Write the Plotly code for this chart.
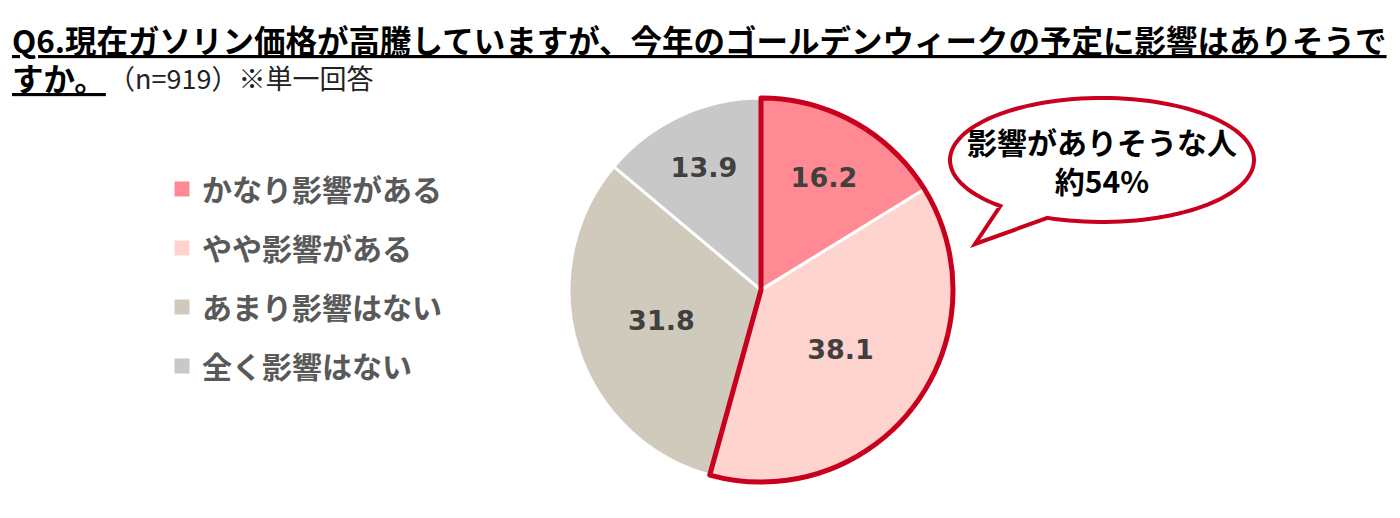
import math
import plotly.graph_objects as go

W, H = 1392, 510   # page has an 8px body margin
OFF = 8

# ---- data ----
categories = ["かなり影響がある", "やや影響がある", "あまり影響はない", "全く影響はない"]
values = [16.2, 38.1, 31.8, 13.9]
colors = ["#FF8A93", "#FFD4CF", "#D0CABC", "#C8C8C8"]
title_line1 = "Q6.現在ガソリン価格が高騰していますが、今年のゴールデンウィークの予定に影響はありそうで"
title_line2 = "すか。"
title_note = "（n=919）※単一回答"
callout_label = "影響がありそうな人"

affected = values[0] + values[1]
RED = "#C8001E"

def px(x):
    return (x - OFF) / W

def py(y):
    return 1 - (y - OFF) / H

# pie geometry (screen pixels)
cx, cy, r = 761, 290, 192
dom_x = [px(cx) - 0.2, px(cx) + 0.2]
dom_y = [py(cy + r), py(cy - r)]

fig = go.Figure()

fig.add_trace(go.Pie(
    labels=categories, values=values, sort=False, direction="clockwise", rotation=0,
    marker=dict(colors=colors, line=dict(color="white", width=3)),
    textinfo="value", texttemplate="%{value:.1f}", textposition="inside",
    insidetextorientation="horizontal",
    textfont=dict(family="DejaVu Sans", size=27, color="#404040", weight="bold"),
    domain=dict(x=dom_x, y=dom_y), showlegend=False, hoverinfo="label+value",
))

# red outline around the "affected" group
fig.add_trace(go.Pie(
    labels=["affected", "other"], values=[affected, 100 - affected], sort=False,
    direction="clockwise", rotation=0,
    marker=dict(colors=["rgba(0,0,0,0)", "rgba(0,0,0,0)"],
                line=dict(color=[RED, "rgba(0,0,0,0)"], width=[5, 0])),
    textinfo="none", hoverinfo="skip", showlegend=False,
    domain=dict(x=dom_x, y=dom_y),
))

# legend entries
for i, (cat, col) in enumerate(zip(categories, colors)):
    fig.add_trace(go.Scatter(
        x=[None], y=[None], mode="markers", name=cat, legendgroup=f"g{i}",
        marker=dict(symbol="square", size=15, color=col), showlegend=True,
    ))

# callout bubble (ellipse + tail) built as a polygon path
ecx, ecy, erx, ery = 1102, 160, 152, 62
t_start = math.radians(111)
t_end = math.radians(132) - 2 * math.pi
tip = (975, 244)
pts = []
n = 120
for k in range(n + 1):
    t = t_start + (t_end - t_start) * k / n
    pts.append((ecx + erx * math.cos(t), ecy + ery * math.sin(t)))
pts.append(tip)
path = "M " + " L ".join(f"{px(x):.5f},{py(y):.5f}" for x, y in pts) + " Z"
fig.add_shape(type="path", path=path, xref="paper", yref="paper",
              fillcolor="white", line=dict(color=RED, width=4))

fig.add_annotation(
    x=px(ecx), y=py(160), xref="paper", yref="paper", showarrow=False,
    text=f"<b>{callout_label}<br>約{round(affected)}%</b>",
    font=dict(family="Noto Sans CJK JP", size=30, color="#000000"),
    align="center", xanchor="center", yanchor="middle",
)

# title
fig.add_annotation(
    x=px(10), y=py(39), xref="paper", yref="paper", showarrow=False,
    text=f"<b><u>{title_line1}</u></b>",
    font=dict(family="Noto Sans CJK JP", size=31.5, color="#000000"),
    xanchor="left", yanchor="middle",
)
fig.add_annotation(
    x=px(10), y=py(77), xref="paper", yref="paper", showarrow=False,
    text=f"<b><u>{title_line2}</u></b>",
    font=dict(family="Noto Sans CJK JP", size=31.5, color="#000000"),
    xanchor="left", yanchor="middle",
)
fig.add_annotation(
    x=px(106), y=py(78), xref="paper", yref="paper", showarrow=False,
    text=title_note,
    font=dict(family="Noto Sans CJK JP", size=27, color="#222222"),
    xanchor="left", yanchor="middle",
)

fig.update_layout(
    width=W, height=H, margin=dict(l=0, r=0, t=0, b=0),
    paper_bgcolor="white", plot_bgcolor="white",
    xaxis=dict(visible=False), yaxis=dict(visible=False),
    legend=dict(
        x=px(162), y=py(163), xanchor="left", yanchor="top",
        font=dict(family="Noto Sans CJK JP", size=30, color="#595959", weight="bold"),
        tracegroupgap=17, itemsizing="trace", bgcolor="rgba(0,0,0,0)",
    ),
)

fig.write_html("out.html")
